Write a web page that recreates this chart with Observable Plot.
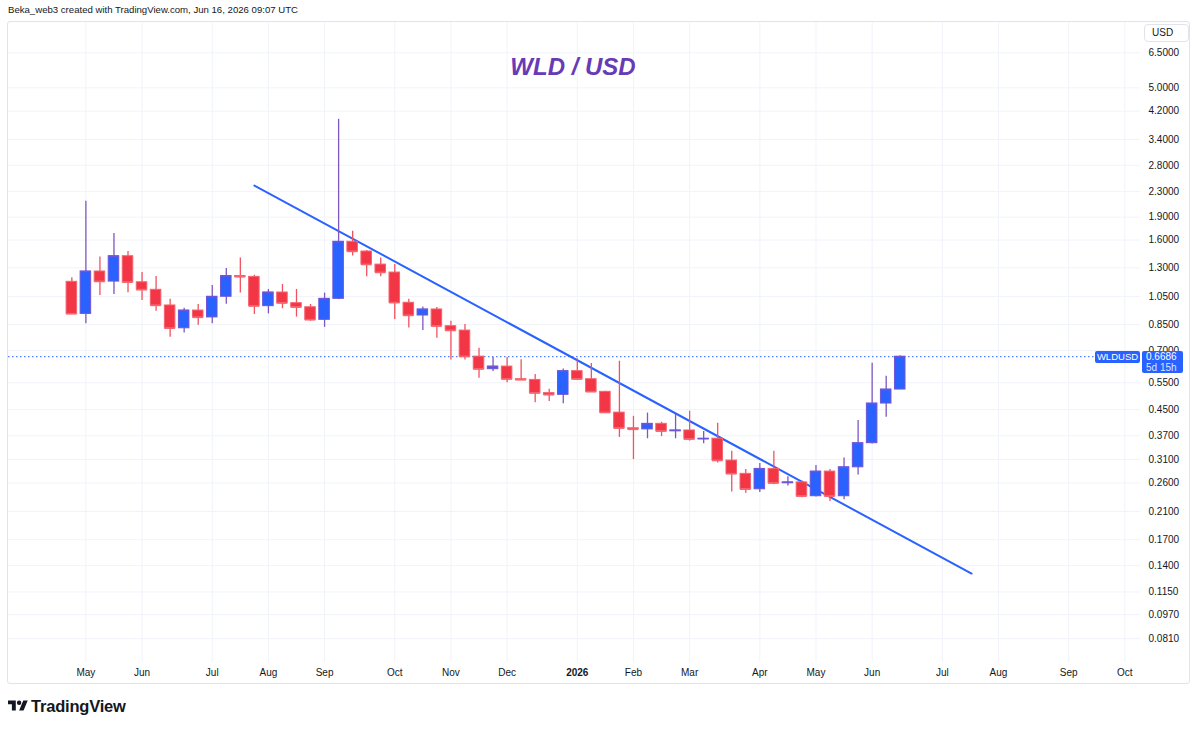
<!DOCTYPE html>
<html>
<head>
<meta charset="utf-8">
<script src="https://cdn.jsdelivr.net/npm/d3@7"></script>
<script src="https://cdn.jsdelivr.net/npm/@observablehq/plot@0.6"></script>
<style>
html, body { margin: 0; padding: 0; background: #ffffff; }
#wrap { position: relative; width: 1200px; height: 729px; overflow: hidden;
  font-family: "Liberation Sans", Arial, sans-serif; color: #131722; }
#wrap > svg.plotsvg { position: absolute; left: 0; top: 0; }
.abs { position: absolute; white-space: nowrap; }
</style>
</head>
<body>
<div id="wrap"></div>
<script>
// ---------- DATA (weekly WLD/USD candles) ----------
const weekStart = [
  "2025-04-28","2025-05-05","2025-05-12","2025-05-19","2025-05-26","2025-06-02","2025-06-09","2025-06-16","2025-06-23","2025-06-30",
  "2025-07-07","2025-07-14","2025-07-21","2025-07-28","2025-08-04","2025-08-11","2025-08-18","2025-08-25","2025-09-01","2025-09-08",
  "2025-09-15","2025-09-22","2025-09-29","2025-10-06","2025-10-13","2025-10-20","2025-10-27","2025-11-03","2025-11-10","2025-11-17",
  "2025-11-24","2025-12-01","2025-12-08","2025-12-15","2025-12-22","2025-12-29","2026-01-05","2026-01-12","2026-01-19","2026-01-26",
  "2026-02-02","2026-02-09","2026-02-16","2026-02-23","2026-03-02","2026-03-09","2026-03-16","2026-03-23","2026-03-30","2026-04-06",
  "2026-04-13","2026-04-20","2026-04-27","2026-05-04","2026-05-11","2026-05-18","2026-05-25","2026-06-01","2026-06-08","2026-06-15"
];
const openPrice = [
  1.171, 0.921, 1.265, 1.173, 1.418, 1.167, 1.103, 0.981, 0.827, 0.9445,
  0.897, 1.047, 1.223, 1.215, 0.976, 1.081, 0.998, 0.968, 0.881, 1.031,
  1.58, 1.469, 1.332, 1.255, 1.001, 0.91, 0.952, 0.84, 0.813, 0.669,
  0.609, 0.621, 0.565, 0.562, 0.509, 0.5025, 0.600, 0.565, 0.514, 0.440,
  0.3914, 0.388, 0.4045, 0.3827, 0.385, 0.3605, 0.362, 0.3073, 0.2782, 0.2479,
  0.2887, 0.2594, 0.261, 0.2353, 0.283, 0.2353, 0.2922, 0.350, 0.4709, 0.5229
];
const highPrice = [
  1.206, 2.14, 1.411, 1.681, 1.469, 1.255, 1.218, 1.028, 0.961, 0.988,
  1.139, 1.293, 1.40, 1.23, 1.106, 1.147, 1.106, 0.988, 1.076, 3.95,
  1.71, 1.48, 1.40, 1.332, 1.028, 0.97, 0.966, 0.872, 0.85, 0.712,
  0.664, 0.664, 0.654, 0.585, 0.524, 0.610, 0.659, 0.635, 0.516, 0.6465,
  0.428, 0.4384, 0.4094, 0.434, 0.4446, 0.3818, 0.4064, 0.3295, 0.2872, 0.3007,
  0.3295, 0.2723, 0.2635, 0.2963, 0.2872, 0.3131, 0.4146, 0.6368, 0.5777, 0.6735
];
const lowPrice = [
  0.918, 0.855, 1.057, 1.065, 1.078, 1.018, 0.94, 0.773, 0.799, 0.846,
  0.855, 0.99, 1.077, 0.917, 0.921, 0.957, 0.899, 0.872, 0.833, 1.025,
  1.42, 1.216, 1.216, 0.883, 0.829, 0.813, 0.767, 0.6525, 0.652, 0.569,
  0.598, 0.5505, 0.559, 0.474, 0.478, 0.4705, 0.559, 0.512, 0.4375, 0.3654,
  0.3094, 0.3617, 0.3675, 0.3617, 0.3555, 0.3486, 0.3016, 0.2431, 0.2407, 0.2418,
  0.2565, 0.2542, 0.2327, 0.2340, 0.2262, 0.229, 0.276, 0.348, 0.4247, 0.5229
];
const closePrice = [
  0.921, 1.265, 1.173, 1.418, 1.167, 1.103, 0.981, 0.827, 0.9445, 0.897,
  1.047, 1.223, 1.215, 0.976, 1.081, 0.998, 0.968, 0.881, 1.031, 1.58,
  1.469, 1.332, 1.255, 1.001, 0.91, 0.952, 0.84, 0.813, 0.669, 0.609,
  0.621, 0.565, 0.562, 0.509, 0.5025, 0.600, 0.565, 0.514, 0.440, 0.3914,
  0.388, 0.4045, 0.3827, 0.385, 0.3605, 0.362, 0.3073, 0.2782, 0.2479, 0.2887,
  0.2594, 0.261, 0.2353, 0.283, 0.2353, 0.2922, 0.350, 0.4709, 0.5229, 0.6686
];

// trend line drawing (two anchor points)
const trendDates = ["2025-07-28T00:00:00Z", "2026-07-20T14:00:00Z"];
const trendPrices = [2.407, 0.1319];

// axis ticks
const priceTicks = [6.5, 5.0, 4.2, 3.4, 2.8, 2.3, 1.9, 1.6, 1.3, 1.05, 0.85, 0.70, 0.55, 0.45, 0.37, 0.31, 0.26, 0.21, 0.17, 0.14, 0.115, 0.097, 0.081];
const monthTickDates = ["2025-05-05","2025-06-02","2025-07-07","2025-08-04","2025-09-01","2025-10-06","2025-11-03","2025-12-01","2026-01-05",
  "2026-02-02","2026-03-02","2026-04-06","2026-05-04","2026-06-01","2026-07-06","2026-08-03","2026-09-07","2026-10-05"];
const monthTickLabels = ["May","Jun","Jul","Aug","Sep","Oct","Nov","Dec","2026","Feb","Mar","Apr","May","Jun","Jul","Aug","Sep","Oct"];
const boldTickLabels = ["2026"];

const headerText = "Beka_web3 created with TradingView.com, Jun 16, 2026 09:07 UTC";
const titleText = "WLD / USD";
const symbolText = "WLDUSD";
const currencyText = "USD";
const countdownText = "5d 15h";

// ---------- build tables ----------
const candles = weekStart.map((w, i) => ({
  date: new Date(w + "T00:00:00Z"),
  open: openPrice[i], high: highPrice[i], low: lowPrice[i], close: closePrice[i]
}));
const up = candles.filter(d => d.close >= d.open);
const down = candles.filter(d => d.close < d.open);
const trend = trendDates.map((t, i) => ({date: new Date(t), price: trendPrices[i]}));
const monthTicks = monthTickDates.map((t, i) => ({date: new Date(t + "T00:00:00Z"), label: monthTickLabels[i]}));
const priceTickRows = priceTicks.map(v => ({value: v, label: v.toFixed(4)}));
const lastClose = closePrice[closePrice.length - 1];

const bodyLeft = d => d3.utcHour.offset(d.date, -63);
const bodyRight = d => d3.utcHour.offset(d.date, 63);

const UP = "#2962ff", UP_EDGE = "#6f55d8", UP_WICK = "#7e57c2";
const DN = "#f23645", DN_EDGE = "#f5646f", DN_WICK = "#f0525e";
const GRID = "#f0f3fa";
const FONT = "'Liberation Sans', Arial, sans-serif";

const chart = Plot.plot({
  width: 1200, height: 729,
  marginTop: 22, marginBottom: 67, marginLeft: 8, marginRight: 60,
  style: {fontFamily: FONT, fontSize: "10px", color: "#131722", background: "transparent", overflow: "visible"},
  x: {type: "utc", domain: [new Date("2025-03-27T10:00:00Z"), new Date("2026-10-12T19:00:00Z")], axis: null},
  y: {type: "log", domain: [0.0678, 8.154], axis: null},
  marks: [
    Plot.gridX(monthTicks.map(d => d.date), {stroke: GRID, strokeOpacity: 1}),
    Plot.gridY(priceTicks, {stroke: GRID, strokeOpacity: 1}),
    Plot.text(priceTickRows, {y: "value", text: "label", frameAnchor: "right", textAnchor: "start",
      dx: 8, fill: "#131722", fontSize: 10}),
    Plot.text(monthTicks.filter(d => !boldTickLabels.includes(d.label)), {x: "date", text: "label",
      frameAnchor: "bottom", lineAnchor: "top", dy: 6, fill: "#131722", fontSize: 10}),
    Plot.text(monthTicks.filter(d => boldTickLabels.includes(d.label)), {x: "date", text: "label",
      frameAnchor: "bottom", lineAnchor: "top", dy: 6, fill: "#131722", fontSize: 10, fontWeight: "bold"}),
    Plot.ruleY([lastClose], {stroke: UP, strokeWidth: 1, strokeDasharray: "1.5,2.5"}),
    Plot.line(trend, {x: "date", y: "price", stroke: UP, strokeWidth: 2}),
    Plot.ruleX(up, {x: "date", y1: "low", y2: "high", stroke: UP_WICK, strokeWidth: 1.3}),
    Plot.ruleX(down, {x: "date", y1: "low", y2: "high", stroke: DN_WICK, strokeWidth: 1.3}),
    Plot.rect(up, {x1: bodyLeft, x2: bodyRight, y1: "open", y2: "close", fill: UP, stroke: UP_EDGE, strokeWidth: 1}),
    Plot.rect(down, {x1: bodyLeft, x2: bodyRight, y1: "open", y2: "close", fill: DN, stroke: DN_EDGE, strokeWidth: 1}),
    Plot.ruleY(up, {y: "close", x1: bodyLeft, x2: bodyRight, stroke: UP_EDGE, strokeWidth: 1.4}),
    Plot.ruleY(down, {y: "close", x1: bodyLeft, x2: bodyRight, stroke: DN_EDGE, strokeWidth: 1.4})
  ]
});
chart.classList.add("plotsvg");

const wrap = document.getElementById("wrap");

// outer frame
const frame = document.createElement("div");
frame.className = "abs";
Object.assign(frame.style, {left: "7px", top: "21px", width: "1183px", height: "663px",
  border: "1px solid #e0e3eb", borderRadius: "3px", boxSizing: "border-box"});
wrap.appendChild(frame);

wrap.appendChild(chart);

// header
const header = document.createElement("div");
header.className = "abs";
header.textContent = headerText;
Object.assign(header.style, {left: "8px", top: "4px", fontSize: "9.6px", lineHeight: "12px", color: "#131722"});
wrap.appendChild(header);

// title drawing
const title = document.createElement("div");
title.className = "abs";
title.textContent = titleText;
Object.assign(title.style, {left: "573px", top: "67px", transform: "translate(-50%,-50%)",
  fontSize: "24px", fontWeight: "bold", fontStyle: "italic", color: "#673ab7", lineHeight: "30px"});
wrap.appendChild(title);

// currency box
const cur = document.createElement("div");
cur.className = "abs";
cur.textContent = currencyText;
Object.assign(cur.style, {left: "1144px", top: "24px", width: "45px", height: "18px", boxSizing: "border-box",
  border: "1px solid #e0e3eb", borderRadius: "4px", fontSize: "10px", lineHeight: "16px", paddingLeft: "7px", color: "#131722", background: "#fff"});
wrap.appendChild(cur);

// price tags positioned with the plot's y scale
const yPx = chart.scale("y").apply(lastClose);
const symTag = document.createElement("div");
symTag.className = "abs";
symTag.textContent = symbolText;
Object.assign(symTag.style, {left: "1095px", top: (yPx - 5.5) + "px", width: "45px", height: "12px",
  background: UP, color: "#fff", fontSize: "9.5px", lineHeight: "12px", textAlign: "center", borderRadius: "2px"});
wrap.appendChild(symTag);

const priceTag = document.createElement("div");
priceTag.className = "abs";
priceTag.innerHTML = `<div>${lastClose.toFixed(4)}</div><div style="color:#dbe3ff">${countdownText}</div>`;
Object.assign(priceTag.style, {left: "1142px", top: (yPx - 5.5) + "px", width: "41px", height: "22px",
  background: UP, color: "#fff", fontSize: "10px", lineHeight: "11px", paddingLeft: "4px", boxSizing: "border-box", borderRadius: "2px"});
wrap.appendChild(priceTag);

// footer logo
const logo = document.createElement("div");
logo.className = "abs";
Object.assign(logo.style, {left: "8px", top: "697px", height: "18px", display: "flex", alignItems: "center"});
logo.innerHTML = `<svg width="20" height="16" viewBox="0 0 36 28" style="margin-right:3px"><path d="M14 22H7V11H0V4h14v18zM28 22h-8l7.5-18h8L28 22z" fill="#131722"/><circle cx="20" cy="8" r="4" fill="#131722"/></svg><span style="font-size:16.5px;font-weight:bold;color:#131722;letter-spacing:-0.2px">TradingView</span>`;
wrap.appendChild(logo);
</script>
</body>
</html>
